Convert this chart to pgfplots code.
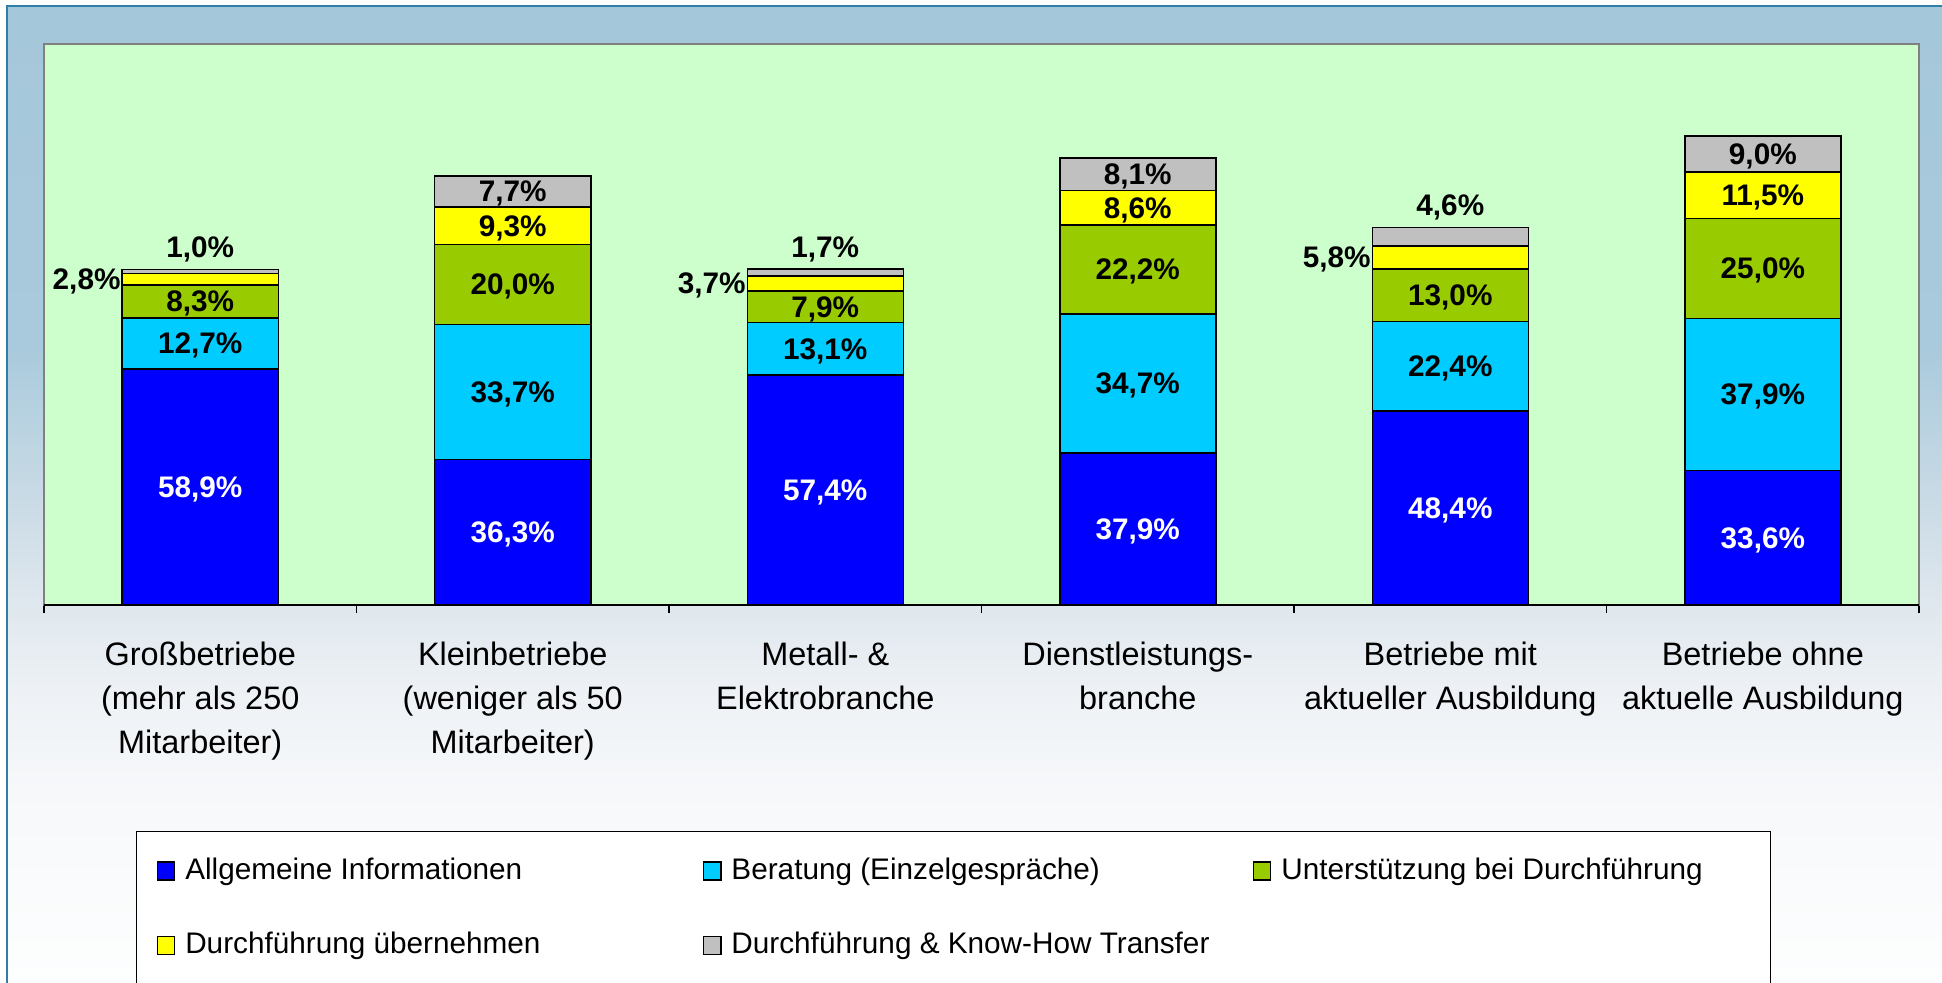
\documentclass[border=0pt]{standalone}
\usepackage{fontspec}
\setmainfont{Liberation Sans}
\usepackage{pgfplots}
\usepackage{pgfplotstable}
\pgfplotsset{compat=1.18}

\definecolor{allg}{HTML}{0000FF}
\definecolor{berat}{HTML}{00CCFF}
\definecolor{unterst}{HTML}{99CC00}
\definecolor{durchf}{HTML}{FFFF00}
\definecolor{knowhow}{HTML}{C0C0C0}
\definecolor{plotbg}{HTML}{CCFFCC}
\definecolor{framegray}{HTML}{808080}
\definecolor{borderblue}{HTML}{2E7EA6}
\definecolor{bg0}{HTML}{FDFEFE}
\definecolor{bg1}{HTML}{F6F8FA}
\definecolor{bg2}{HTML}{EDF1F5}
\definecolor{bg3}{HTML}{DDE6ED}
\definecolor{bg4}{HTML}{C8DAE5}
\definecolor{bg5}{HTML}{A9CADC}
\definecolor{bg6}{HTML}{A5C7DA}

% panel background; TikZ fits 25bp..75bp to the path
\pgfdeclareverticalshading{panelshade}{100bp}{
  color(0bp)=(bg0); color(25bp)=(bg0); color(35bp)=(bg1); color(40bp)=(bg2);
  color(45bp)=(bg3); color(50bp)=(bg4); color(57.5bp)=(bg5); color(75bp)=(bg6);
  color(100bp)=(bg6)}

% shares per group (percent)
\pgfplotstableread{
x  a     b     c     d     e
0  58.9  12.7  8.3   2.8   1.0
1  36.3  33.7  20.0  9.3   7.7
2  57.4  13.1  7.9   3.7   1.7
3  37.9  34.7  22.2  8.6   8.1
4  48.4  22.4  13.0  5.8   4.6
5  33.6  37.9  25.0  11.5  9.0
}\datatable

\newcommand{\leg}[2]{\makebox[#1][l]{\rule[-3pt]{0pt}{12pt}#2}}

\pgfplotsset{
  samebox/.style={
    at={(0pt,0pt)}, anchor=south west,
    scale only axis, width=757pt, height=226.5pt,
    xmin=-0.5, xmax=5.5, ymin=0, ymax=140,
  },
  sq legend/.style={
    legend image code/.code={\draw[##1, line width=0.6pt] (0pt,-0.3pt) rectangle (7pt,7pt);}
  },
  pctlabel/.style={
    draw=none, mark=none, forget plot,
    point meta=explicit,
    nodes near coords={\pgfmathprintnumber[fixed,fixed zerofill,precision=1,use comma,assume math mode=true]{\pgfplotspointmeta}\%},
    every node near coord/.append style={font=\fontsize{12}{14}\selectfont\bfseries,
      text=black, anchor=center, inner sep=0pt, text depth=0pt},
  },
  oddx/.style={x filter/.expression={mod(round(x),2)==1 ? x : nan}},
  evenx/.style={x filter/.expression={mod(round(x),2)==0 ? x : nan}},
}

\begin{document}
\begin{tikzpicture}
% --- background panel ---
\fill[white] (-17.75pt,-152.25pt) rectangle (766.25pt,244.25pt);
\shade[shading=panelshade] (-14.9pt,-152.25pt) rectangle (780pt,241.8pt);
\draw[borderblue, line width=0.8pt] (-14.9pt,-160pt) -- (-14.9pt,241.8pt) -- (780pt,241.8pt);

\begin{axis}[
  samebox,
  ybar stacked, bar width=63pt,
  axis background/.style={fill=plotbg},
  axis line style={draw=framegray, line width=0.6pt},
  ytick=\empty,
  xtick={0,...,5},
  xticklabels={
    {Großbetriebe\\(mehr als 250\\Mitarbeiter)},
    {Kleinbetriebe\\(weniger als 50\\Mitarbeiter)},
    {Metall- \&\\Elektrobranche},
    {Dienstleistungs-\\branche},
    {Betriebe mit\\aktueller Ausbildung},
    {Betriebe ohne\\aktuelle Ausbildung}},
  x tick label style={font=\fontsize{13.1}{17.7}\selectfont, align=center,
    anchor=north, inner sep=0pt, yshift=-14.75pt},
  major tick length=0pt,
  minor xtick={-0.5,0.5,...,5.5},
  minor tick length=3.25pt,
  xtick align=outside,
  xtick pos=left,
  tick style={black, line width=0.6pt},
  legend columns=3,
  legend style={at={(0.04921,-0.40287)}, anchor=north west,
    draw=black, fill=white, inner xsep=8pt, inner ysep=10.35pt,
    column sep=4pt, row sep=19.5pt,
    cells={anchor=base west}, nodes={inner sep=0pt},
    font=\fontsize{12}{14}\selectfont},
]
\addplot[fill=allg, draw=black, line width=0.6pt, sq legend] table[x=x,y=a]{\datatable};
\addlegendentry{\leg{204.9pt}{Allgemeine Informationen}}
\addplot[fill=berat, draw=black, line width=0.6pt, sq legend] table[x=x,y=b]{\datatable};
\addlegendentry{\leg{206.4pt}{Beratung (Einzelgespräche)}}
\addplot[fill=unterst, draw=black, line width=0.6pt, sq legend] table[x=x,y=c]{\datatable};
\addlegendentry{\leg{189.5pt}{Unterstützung bei Durchführung}}
\addplot[fill=durchf, draw=black, line width=0.6pt, sq legend] table[x=x,y=d]{\datatable};
\addlegendentry{\leg{204.9pt}{Durchführung übernehmen}}
\addplot[fill=knowhow, draw=black, line width=0.6pt, sq legend] table[x=x,y=e]{\datatable};
\addlegendentry{\leg{206.4pt}{Durchführung \& Know-How Transfer}}
\draw[black, line width=0.6pt] (rel axis cs:0,0) -- (rel axis cs:1,0);
\end{axis}

% --- value labels ---
\begin{axis}[samebox, hide axis, clip=false]
\addplot[pctlabel, every node near coord/.append style={text=white}]
  table[x=x, y expr=\thisrow{a}/2, meta=a]{\datatable};
\addplot[pctlabel]
  table[x=x, y expr=\thisrow{a}+\thisrow{b}/2, meta=b]{\datatable};
\addplot[pctlabel]
  table[x=x, y expr=\thisrow{a}+\thisrow{b}+\thisrow{c}/2, meta=c]{\datatable};
\addplot[pctlabel, oddx]
  table[x=x, y expr=\thisrow{a}+\thisrow{b}+\thisrow{c}+\thisrow{d}/2, meta=d]{\datatable};
\addplot[pctlabel, evenx, every node near coord/.append style={anchor=east, xshift=-32pt}]
  table[x=x, y expr=\thisrow{a}+\thisrow{b}+\thisrow{c}+\thisrow{d}/2, meta=d]{\datatable};
\addplot[pctlabel, oddx]
  table[x=x, y expr=\thisrow{a}+\thisrow{b}+\thisrow{c}+\thisrow{d}+\thisrow{e}/2, meta=e]{\datatable};
\addplot[pctlabel, evenx, every node near coord/.append style={anchor=south, yshift=4.5pt}]
  table[x=x, y expr=\thisrow{a}+\thisrow{b}+\thisrow{c}+\thisrow{d}+\thisrow{e}, meta=e]{\datatable};
\end{axis}

\pgfresetboundingbox
\useasboundingbox (-17.75pt,-152.25pt) rectangle (766.25pt,244.25pt);
\end{tikzpicture}
\end{document}
